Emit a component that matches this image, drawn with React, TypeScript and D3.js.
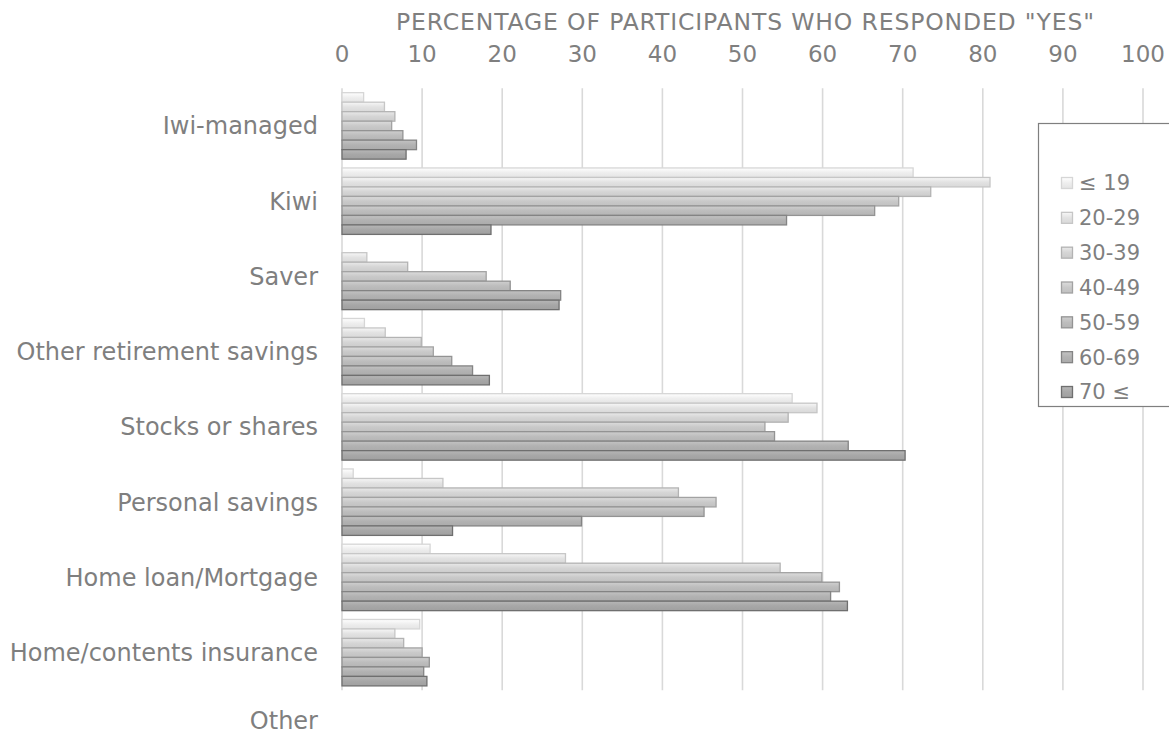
import React from "react";
import * as d3 from "d3";

const categories = [
  "Iwi-managed",
  "Kiwi",
  "Saver",
  "Other retirement savings",
  "Stocks or shares",
  "Personal savings",
  "Home loan/Mortgage",
  "Home/contents insurance",
  "Other",
];

const seriesNames = ["≤ 19", "20-29", "30-39", "40-49", "50-59", "60-69", "70 ≤"];

// values per category, one per age band (percent)
const iwiManaged = [2.7, 5.3, 6.6, 6.2, 7.6, 9.3, 8.0];
const kiwi = [71.3, 80.9, 73.5, 69.5, 66.5, 55.5, 18.6];
const saver = [0, 3.1, 8.2, 18.0, 21.0, 27.3, 27.1];
const otherRetirement = [2.8, 5.4, 9.9, 11.4, 13.7, 16.3, 18.4];
const stocksShares = [56.2, 59.3, 55.7, 52.8, 54.0, 63.2, 70.3];
const personalSavings = [1.4, 12.6, 42.0, 46.7, 45.2, 29.9, 13.8];
const homeLoan = [11.0, 27.9, 54.7, 59.9, 62.1, 61.0, 63.1];
const homeContents = [9.7, 6.6, 7.7, 10.0, 10.9, 10.2, 10.6];
const other: number[] = [];

const valuesByCategory = [
  iwiManaged,
  kiwi,
  saver,
  otherRetirement,
  stocksShares,
  personalSavings,
  homeLoan,
  homeContents,
  other,
];

const xTicks = [0, 10, 20, 30, 40, 50, 60, 70, 80, 90, 100];

const fills = ["#eeeeee", "#e2e2e2", "#d5d5d5", "#c9c9c9", "#bdbdbd", "#b2b2b2", "#a7a7a7"];
const strokes = ["#d6d6d6", "#c6c6c6", "#b3b3b3", "#a2a2a2", "#939393", "#848484", "#6f6f6f"];

const W = 1169;
const H = 738;
const TEXT = "#7f7f7f";
const FONT = "'DejaVu Sans', Verdana, sans-serif";

export default function App() {
  const x = d3.scaleLinear().domain([0, 100]).range([342, 1143]);
  const y0 = d3
    .scaleBand<string>()
    .domain(categories)
    .range([88.3, 88.3 + 75.25 * categories.length]);
  const bw = y0.bandwidth();
  const gap = 4.4;
  const y1 = d3.scaleBand<string>().domain(seriesNames).range([gap, bw - gap]);
  const plotBottom = y0("Other") as number;
  const plotTop = y0(categories[0]) as number;

  const legendY = d3
    .scalePoint<string>()
    .domain(seriesNames)
    .range([183, 392]);

  return (
    <svg
      width={W}
      height={H}
      style={{ position: "absolute", left: 0, top: 0, background: "#fff" }}
      fontFamily={FONT}
    >
      <defs>
        {fills.map((f, i) => {
          const c = d3.color(f)!;
          return (
            <linearGradient key={i} id={`g${i}`} x1="0" y1="0" x2="0" y2="1">
              <stop offset="0" stopColor={c.brighter(0.25).formatHex()} />
              <stop offset="0.5" stopColor={f} />
              <stop offset="1" stopColor={c.darker(0.12).formatHex()} />
            </linearGradient>
          );
        })}
      </defs>
      <rect x={0} y={0} width={W} height={H} fill="#fff" />

      {/* title */}
      <text
        x={396}
        y={29.5}
        fill={TEXT}
        fontSize={23.5}
        textLength={698}
        lengthAdjust="spacing"
      >
        PERCENTAGE OF PARTICIPANTS WHO RESPONDED "YES"
      </text>

      {/* gridlines */}
      {xTicks.map((t) => (
        <line
          key={t}
          x1={x(t)}
          x2={x(t)}
          y1={plotTop}
          y2={plotBottom}
          stroke="#d9d9d9"
          strokeWidth={1.6}
        />
      ))}

      {/* tick labels */}
      {xTicks.map((t) => (
        <text
          key={t}
          x={x(t)}
          y={62}
          textAnchor="middle"
          fill={TEXT}
          fontSize={23}
        >
          {t}
        </text>
      ))}

      {/* bars */}
      {categories.map((cat, ci) => (
        <g key={cat} transform={`translate(0,${y0(cat)})`}>
          {valuesByCategory[ci].map((v, si) =>
            v > 0 ? (
              <rect
                key={si}
                x={x(0)}
                y={y1(seriesNames[si])}
                width={x(v) - x(0)}
                height={y1.bandwidth()}
                fill={`url(#g${si})`}
                stroke={strokes[si]}
                strokeWidth={1.3}
              />
            ) : null
          )}
        </g>
      ))}

      {/* category labels */}
      {categories.map((cat) => (
        <text
          key={cat}
          x={318}
          y={Math.min((y0(cat) as number) + bw / 2, 721)}
          dy="0.35em"
          textAnchor="end"
          fill={TEXT}
          fontSize={24}
        >
          {cat}
        </text>
      ))}

      {/* legend */}
      <rect
        x={1038.5}
        y={123.5}
        width={140}
        height={283}
        fill="#fff"
        stroke="#7f7f7f"
        strokeWidth={1.2}
      />
      {seriesNames.map((s, i) => (
        <g key={s} transform={`translate(0,${legendY(s)})`}>
          <rect
            x={1061.5}
            y={-5.5}
            width={11}
            height={11}
            fill={`url(#g${i})`}
            stroke={strokes[i]}
            strokeWidth={1.3}
          />
          <text x={1079} y={0} dy="0.35em" fill={TEXT} fontSize={21}>
            {s}
          </text>
        </g>
      ))}
    </svg>
  );
}
